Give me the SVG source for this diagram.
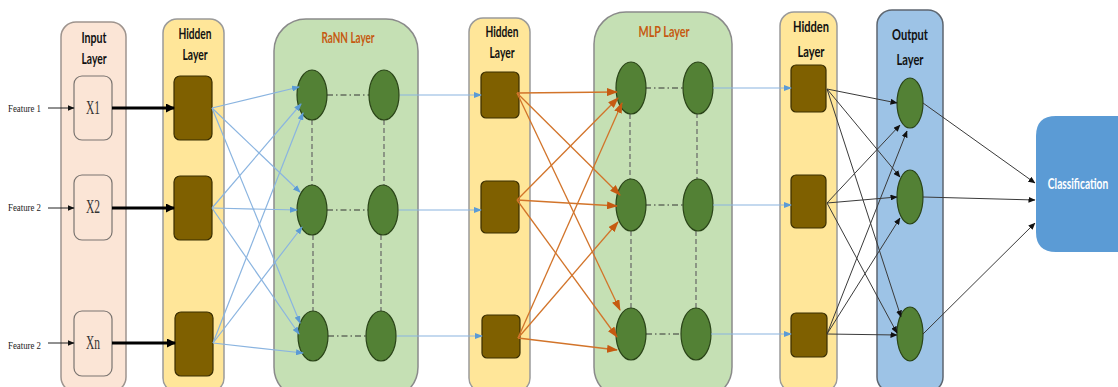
<svg xmlns="http://www.w3.org/2000/svg" width="1118" height="387" viewBox="0 0 1118 387">
<defs>
<style>
.pnl-in{fill:#fbe5d6;stroke:#9e948e;stroke-width:1.5}
.pnl-h{fill:#ffe699;stroke:#9a9a9a;stroke-width:1.5}
.pnl-g{fill:#c5e0b4;stroke:#8a8a8a;stroke-width:1.5}
.pnl-o{fill:#9dc3e6;stroke:#5d6670;stroke-width:1.5}
.xbox{fill:#fbe5d6;stroke:#7a7470;stroke-width:1.2}
.hbox{fill:#7f6000;stroke:#3a2e00;stroke-width:1.2}
.node{fill:#538135;stroke:#2a4418;stroke-width:1.2}
.ttl{font-family:Lato,"Open Sans",sans-serif;font-weight:bold;font-size:16px;fill:#111;text-anchor:middle}
.ttl-o{font-family:Lato,"Open Sans",sans-serif;font-weight:bold;font-size:16px;fill:#c55a11;text-anchor:middle}
.cls{font-family:Lato,"Open Sans",sans-serif;font-weight:bold;font-size:15px;fill:#ffffff;text-anchor:middle}
.feat{font-family:"Liberation Serif",serif;font-size:11px;fill:#222}
.xt{font-family:"Liberation Serif",serif;font-size:19px;fill:#333;text-anchor:middle}
.dh{stroke:#333;stroke-width:1;stroke-dasharray:6,3,1.5,3;fill:none}
.dv{stroke:#666;stroke-width:1.2;stroke-dasharray:5,3;fill:none}
.cb{stroke:#8ab4e0;stroke-width:1.2;fill:none;marker-end:url(#mb)}
.co{stroke:#d2742a;stroke-width:1.3;fill:none;marker-end:url(#mo)}
.ck{stroke:#3a3a3a;stroke-width:1;fill:none;marker-end:url(#mk)}
.cf{stroke:#222;stroke-width:1;fill:none;marker-end:url(#mk)}
.ct{stroke:#000;stroke-width:3;fill:none;marker-end:url(#mt)}
</style>
<marker id="mb" markerUnits="userSpaceOnUse" markerWidth="8" markerHeight="6" refX="7" refY="3" orient="auto"><path d="M0,0 L8,3 L0,6 z" fill="#5b9bd5"/></marker>
<marker id="mo" markerUnits="userSpaceOnUse" markerWidth="11" markerHeight="8" refX="10" refY="4" orient="auto"><path d="M0,0 L11,4 L0,8 z" fill="#c55a11"/></marker>
<marker id="mk" markerUnits="userSpaceOnUse" markerWidth="7" markerHeight="6" refX="6.5" refY="3" orient="auto"><path d="M0,0 L7,3 L0,6 z" fill="#111"/></marker>
<marker id="mt" markerUnits="userSpaceOnUse" markerWidth="9" markerHeight="9" refX="8" refY="4.5" orient="auto"><path d="M0,0 L9,4.5 L0,9 z" fill="#000"/></marker>
</defs>
<rect width="1118" height="387" fill="#ffffff"/>

<g id="input-layer">
<rect class="pnl-in" x="61" y="22" width="65" height="370" rx="15"/>
<text class="ttl" x="94" y="43" textLength="25" lengthAdjust="spacingAndGlyphs">Input</text>
<text class="ttl" x="94" y="64" textLength="25" lengthAdjust="spacingAndGlyphs">Layer</text>
</g>
<g id="x1"><rect class="xbox" x="74" y="76" width="38" height="64" rx="8"/><text class="xt" x="93" y="114" textLength="14" lengthAdjust="spacingAndGlyphs">X1</text></g>
<g id="x2"><rect class="xbox" x="74" y="175" width="38" height="65" rx="8"/><text class="xt" x="93" y="213" textLength="14" lengthAdjust="spacingAndGlyphs">X2</text></g>
<g id="xn"><rect class="xbox" x="74" y="311" width="38" height="65" rx="8"/><text class="xt" x="93" y="349" textLength="14" lengthAdjust="spacingAndGlyphs">Xn</text></g>

<g id="feature-1"><text class="feat" x="8" y="112" textLength="33" lengthAdjust="spacingAndGlyphs">Feature 1</text></g>
<g id="feature-2a"><text class="feat" x="8" y="211" textLength="33" lengthAdjust="spacingAndGlyphs">Feature 2</text></g>
<g id="feature-2b"><text class="feat" x="8" y="349" textLength="33" lengthAdjust="spacingAndGlyphs">Feature 2</text></g>

<g id="hidden-layer-1">
<rect class="pnl-h" x="163" y="19" width="61" height="373" rx="14"/>
<text class="ttl" x="195" y="39" textLength="33" lengthAdjust="spacingAndGlyphs">Hidden</text>
<text class="ttl" x="195" y="60" textLength="25" lengthAdjust="spacingAndGlyphs">Layer</text>
<rect class="hbox" x="174" y="76" width="38" height="64" rx="6"/>
<rect class="hbox" x="174" y="176" width="38" height="64" rx="6"/>
<rect class="hbox" x="175" y="312" width="38" height="64" rx="6"/>
</g>

<g id="rann-layer">
<rect class="pnl-g" x="274" y="19" width="144" height="380" rx="32"/>
<text class="ttl-o" x="348" y="43" textLength="53" lengthAdjust="spacingAndGlyphs">RaNN Layer</text>
<path class="dh" d="M327,95 H369"/>
<path class="dh" d="M327,210 H368"/>
<path class="dh" d="M328,336 H366"/>
<path class="dv" d="M312,120 V185"/>
<path class="dv" d="M384,120 V185"/>
<path class="dv" d="M313,235 V311"/>
<path class="dv" d="M381,235 V311"/>
<ellipse class="node" cx="312" cy="95" rx="15" ry="25"/>
<ellipse class="node" cx="384" cy="95" rx="15" ry="25"/>
<ellipse class="node" cx="312" cy="210" rx="15" ry="25"/>
<ellipse class="node" cx="383" cy="210" rx="15" ry="25"/>
<ellipse class="node" cx="313" cy="336" rx="15" ry="25"/>
<ellipse class="node" cx="381" cy="336" rx="15" ry="25"/>
</g>

<g id="hidden-layer-2">
<rect class="pnl-h" x="469" y="18" width="61" height="374" rx="14"/>
<text class="ttl" x="502" y="37" textLength="33" lengthAdjust="spacingAndGlyphs">Hidden</text>
<text class="ttl" x="502" y="58" textLength="25" lengthAdjust="spacingAndGlyphs">Layer</text>
<rect class="hbox" x="481" y="72" width="38" height="46" rx="5"/>
<rect class="hbox" x="481" y="181" width="38" height="52" rx="5"/>
<rect class="hbox" x="482" y="315" width="38" height="43" rx="5"/>
</g>

<g id="mlp-layer">
<rect class="pnl-g" x="594" y="12" width="138" height="387" rx="32"/>
<text class="ttl-o" x="664" y="37" textLength="51" lengthAdjust="spacingAndGlyphs">MLP Layer</text>
<path class="dh" d="M645,88 H683"/>
<path class="dh" d="M645,205 H683"/>
<path class="dh" d="M646,334 H681"/>
<path class="dv" d="M630,114 V179"/>
<path class="dv" d="M697,113 V179"/>
<path class="dv" d="M631,231 V308"/>
<path class="dv" d="M696,231 V308"/>
<ellipse class="node" cx="631" cy="88" rx="15" ry="26"/>
<ellipse class="node" cx="698" cy="88" rx="15" ry="26"/>
<ellipse class="node" cx="631" cy="205" rx="15" ry="26"/>
<ellipse class="node" cx="698" cy="205" rx="15" ry="26"/>
<ellipse class="node" cx="631" cy="334" rx="15" ry="26"/>
<ellipse class="node" cx="696" cy="334" rx="15" ry="26"/>
</g>

<g id="hidden-layer-3">
<rect class="pnl-h" x="780" y="12" width="57" height="380" rx="14"/>
<text class="ttl" x="811" y="32" textLength="36" lengthAdjust="spacingAndGlyphs">Hidden</text>
<text class="ttl" x="811" y="57" textLength="27" lengthAdjust="spacingAndGlyphs">Layer</text>
<rect class="hbox" x="791" y="65" width="35" height="47" rx="5"/>
<rect class="hbox" x="791" y="175" width="35" height="53" rx="5"/>
<rect class="hbox" x="791" y="313" width="36" height="44" rx="5"/>
</g>

<g id="output-layer">
<rect class="pnl-o" x="877" y="10" width="66" height="382" rx="15"/>
<text class="ttl" x="910" y="40" textLength="36" lengthAdjust="spacingAndGlyphs">Output</text>
<text class="ttl" x="910" y="65" textLength="27" lengthAdjust="spacingAndGlyphs">Layer</text>
<ellipse class="node" cx="910" cy="103" rx="13" ry="25"/>
<ellipse class="node" cx="910" cy="197" rx="13" ry="27"/>
<ellipse class="node" cx="910" cy="334" rx="13" ry="27"/>
</g>

<g id="classification">
<path d="M1056,116 H1118 V252 H1056 Q1036,252 1036,232 V136 Q1036,116 1056,116 Z" fill="#5b9bd5"/>
<text class="cls" transform="translate(1078,189) scale(0.68,1)" x="0" y="0">Classification</text>
</g>

<g id="connectors">
<path class="cf" d="M48,108 H74"/>
<path class="cf" d="M48,208 H74"/>
<path class="cf" d="M48,343 H74"/>
<path class="ct" d="M112,108 H174"/>
<path class="ct" d="M112,208 H174"/>
<path class="ct" d="M112,343 H175"/>

<path class="cb" d="M212,108 L299,87"/>
<path class="cb" d="M212,108 L300,192"/>
<path class="cb" d="M212,108 L300,323"/>
<path class="cb" d="M212,208 L301,104"/>
<path class="cb" d="M212,208 L297,210"/>
<path class="cb" d="M212,208 L299,334"/>
<path class="cb" d="M213,343 L303,113"/>
<path class="cb" d="M213,343 L302,227"/>
<path class="cb" d="M213,343 L303,353"/>

<path class="cb" d="M400,95 H481"/>
<path class="cb" d="M399,210 H481"/>
<path class="cb" d="M397,336 H482"/>

<path class="co" d="M517,93 L617,92"/>
<path class="co" d="M517,93 L620,195"/>
<path class="co" d="M517,93 L620,310"/>
<path class="co" d="M517,200 L618,98"/>
<path class="co" d="M517,200 L617,206"/>
<path class="co" d="M517,200 L617,337"/>
<path class="co" d="M518,338 L622,103"/>
<path class="co" d="M518,338 L618,222"/>
<path class="co" d="M518,338 L617,350"/>

<path class="cb" d="M713,88 H791"/>
<path class="cb" d="M713,205 H791"/>
<path class="cb" d="M711,334 H791"/>

<path class="ck" d="M827,89 L897,103"/>
<path class="ck" d="M827,89 L900,177"/>
<path class="ck" d="M827,89 L901,317"/>
<path class="ck" d="M827,203 L900,125"/>
<path class="ck" d="M827,203 L897,197"/>
<path class="ck" d="M827,203 L897,333"/>
<path class="ck" d="M827,334 L907,131"/>
<path class="ck" d="M827,334 L900,218"/>
<path class="ck" d="M827,334 L897,335"/>

<path class="ck" d="M923,103 L1035,183"/>
<path class="ck" d="M923,197 L1035,200"/>
<path class="ck" d="M923,334 L1035,223"/>
</g>
</svg>
